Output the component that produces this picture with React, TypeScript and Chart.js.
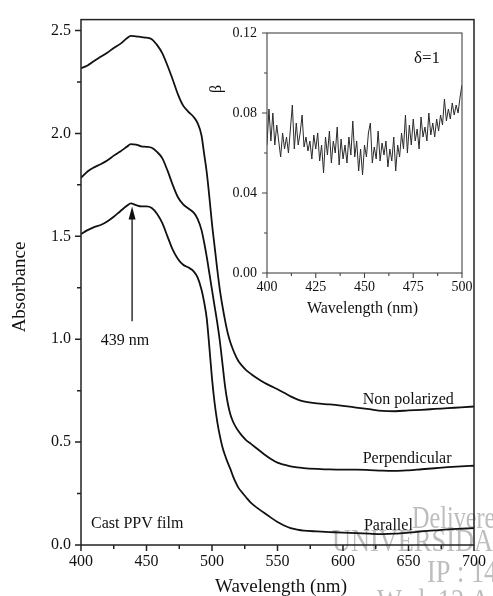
import React, { useEffect, useRef } from 'react';
import { Chart, registerables } from 'chart.js';

Chart.register(...registerables);

const SERIF = "'Liberation Serif', 'Times New Roman', serif";
const INK = '#111111';

// ---------- main chart data ----------
const wavelengths = [
  400, 405, 410, 415, 420, 425, 430, 435, 438, 442, 446, 450, 454, 458, 462, 466, 470, 474, 478, 482,
  486, 489, 492, 494, 496, 498, 500, 502, 504, 506, 508, 510, 512, 514, 516, 518, 520, 523, 526, 530,
  535, 540, 545, 550, 555, 560, 565, 570, 580, 590, 600, 610, 620, 630, 640, 650, 660, 670, 680, 690, 700,
];

const nonPolarized = [
  2.317, 2.330, 2.352, 2.372, 2.392, 2.415, 2.435, 2.462, 2.474, 2.472, 2.468, 2.465, 2.458, 2.430, 2.390, 2.330, 2.262, 2.190, 2.135, 2.105,
  2.080, 2.050, 1.990, 1.900, 1.810, 1.690, 1.560, 1.450, 1.340, 1.240, 1.160, 1.090, 1.030, 0.985, 0.950, 0.920, 0.895, 0.870, 0.850, 0.830,
  0.808, 0.788, 0.772, 0.757, 0.740, 0.722, 0.708, 0.698, 0.688, 0.683, 0.676, 0.668, 0.660, 0.652, 0.650, 0.654, 0.657, 0.661, 0.665, 0.669, 0.673,
];

const perpendicular = [
  1.784, 1.815, 1.835, 1.850, 1.868, 1.892, 1.912, 1.935, 1.948, 1.946, 1.937, 1.935, 1.930, 1.910, 1.880, 1.820, 1.750, 1.690, 1.655, 1.635,
  1.615, 1.585, 1.530, 1.470, 1.400, 1.320, 1.240, 1.160, 1.080, 0.990, 0.880, 0.770, 0.690, 0.635, 0.600, 0.575, 0.555, 0.530, 0.510, 0.490,
  0.465, 0.440, 0.418, 0.400, 0.390, 0.382, 0.377, 0.374, 0.370, 0.367, 0.366, 0.366, 0.364, 0.361, 0.360, 0.363, 0.368, 0.373, 0.378, 0.382, 0.385,
];

const parallel = [
  1.510, 1.530, 1.545, 1.555, 1.572, 1.595, 1.622, 1.648, 1.660, 1.652, 1.645, 1.645, 1.638, 1.610, 1.565, 1.500, 1.435, 1.390, 1.362, 1.348,
  1.330, 1.300, 1.240, 1.180, 1.100, 0.960, 0.810, 0.690, 0.600, 0.530, 0.475, 0.435, 0.400, 0.370, 0.335, 0.305, 0.280, 0.255, 0.232, 0.203,
  0.178, 0.155, 0.133, 0.112, 0.095, 0.082, 0.075, 0.070, 0.066, 0.063, 0.060, 0.058, 0.055, 0.053, 0.055, 0.060, 0.066, 0.071, 0.076, 0.079, 0.082,
];

const mainXTicks = [400, 450, 500, 550, 600, 650, 700];
const mainXMinor = [425, 475, 525, 575, 625, 675];
const mainYTicks = [0, 0.5, 1.0, 1.5, 2.0, 2.5];
const mainYMinor = [0.25, 0.75, 1.25, 1.75, 2.25];

// ---------- inset data (beta vs wavelength, 1 nm steps from 400 nm) ----------
const insetStart = 400;
const beta = [
  0.064, 0.082, 0.066, 0.080, 0.064, 0.074, 0.066, 0.058, 0.070, 0.062,
  0.068, 0.060, 0.072, 0.084, 0.062, 0.075, 0.064, 0.070, 0.079, 0.063,
  0.068, 0.061, 0.066, 0.057, 0.069, 0.062, 0.070, 0.056, 0.064, 0.050,
  0.068, 0.059, 0.071, 0.055, 0.066, 0.060, 0.073, 0.054, 0.067, 0.057,
  0.064, 0.055, 0.068, 0.059, 0.076, 0.058, 0.066, 0.051, 0.062, 0.049,
  0.064, 0.058, 0.070, 0.075, 0.055, 0.063, 0.057, 0.071, 0.056, 0.065,
  0.059, 0.066, 0.053, 0.062, 0.056, 0.068, 0.051, 0.064, 0.058, 0.070,
  0.062, 0.079, 0.060, 0.074, 0.064, 0.077, 0.066, 0.072, 0.062, 0.078,
  0.068, 0.073, 0.066, 0.080, 0.069, 0.075, 0.068, 0.077, 0.071, 0.079,
  0.074, 0.087, 0.076, 0.082, 0.077, 0.085, 0.079, 0.084, 0.080, 0.088,
  0.094,
];
const insetWavelengths = beta.map((_, i) => insetStart + i);

const insetXTicks = [400, 425, 450, 475, 500];
const insetXMinor = [412.5, 437.5, 462.5, 487.5];
const insetYTicks = [0, 0.04, 0.08, 0.12];
const insetYMinor = [0.02, 0.06, 0.1];

// ---------- helpers ----------
type FrameCfg = {
  xMajor: number[]; xMinor: number[]; yMajor: number[]; yMinor: number[];
  major: number; minor: number; lw: number; color: string;
};

function framePlugin(cfg: FrameCfg) {
  return {
    id: 'frameTicks',
    afterDraw(chart: any) {
      const { ctx, chartArea: a, scales } = chart;
      const x = scales.x;
      const y = scales.y;
      ctx.save();
      ctx.strokeStyle = cfg.color;
      ctx.lineWidth = cfg.lw;
      ctx.beginPath();
      for (const v of cfg.xMajor) {
        const p = x.getPixelForValue(v);
        ctx.moveTo(p, a.bottom);
        ctx.lineTo(p, a.bottom + cfg.major);
      }
      for (const v of cfg.xMinor) {
        const p = x.getPixelForValue(v);
        ctx.moveTo(p, a.bottom);
        ctx.lineTo(p, a.bottom + cfg.minor);
      }
      for (const v of cfg.yMajor) {
        const p = y.getPixelForValue(v);
        ctx.moveTo(a.left, p);
        ctx.lineTo(a.left - cfg.major, p);
      }
      for (const v of cfg.yMinor) {
        const p = y.getPixelForValue(v);
        ctx.moveTo(a.left, p);
        ctx.lineTo(a.left - cfg.minor, p);
      }
      ctx.stroke();
      ctx.strokeRect(a.left, a.top, a.right - a.left, a.bottom - a.top);
      ctx.restore();
    },
  };
}

function condensed(ctx: any, text: string, px: number, py: number, sx: number) {
  ctx.save();
  ctx.translate(px, py);
  ctx.scale(sx, 1);
  ctx.fillText(text, 0, 0);
  ctx.restore();
}

const mainTextPlugin = {
  id: 'mainText',
  beforeDraw(chart: any) {
    const { ctx } = chart;
    ctx.save();
    ctx.fillStyle = '#bdbdbd';
    ctx.font = `31px ${SERIF}`;
    ctx.textAlign = 'left';
    ctx.textBaseline = 'alphabetic';
    condensed(ctx, 'Delivere', 412, 528, 0.78);
    condensed(ctx, 'UNIVERSIDA', 332, 551, 0.85);
    condensed(ctx, 'IP : 14', 427, 582, 0.85);
    condensed(ctx, 'Wed, 12 A', 377, 611, 0.85);
    ctx.restore();
  },
  afterDraw(chart: any) {
    const { ctx, scales } = chart;
    const x = scales.x;
    const y = scales.y;
    ctx.save();
    ctx.fillStyle = INK;
    ctx.strokeStyle = INK;
    ctx.textBaseline = 'alphabetic';
    ctx.textAlign = 'left';
    ctx.font = `16px ${SERIF}`;
    const labels: [string, number, number][] = [
      ['Non polarized', 615, 0.687],
      ['Perpendicular', 615, 0.400],
      ['Parallel', 616, 0.074],
      ['Cast PPV film', 407.6, 0.083],
      ['439 nm', 415, 0.974],
    ];
    for (const [t, vx, vy] of labels) ctx.fillText(t, x.getPixelForValue(vx), y.getPixelForValue(vy));

    // arrow at 439 nm
    const ax = x.getPixelForValue(439);
    const y0 = y.getPixelForValue(1.087);
    const y1 = y.getPixelForValue(1.645);
    ctx.lineWidth = 1.3;
    ctx.beginPath();
    ctx.moveTo(ax, y0);
    ctx.lineTo(ax, y1 + 10);
    ctx.stroke();
    ctx.beginPath();
    ctx.moveTo(ax, y1);
    ctx.lineTo(ax - 3.5, y1 + 13);
    ctx.lineTo(ax + 3.5, y1 + 13);
    ctx.closePath();
    ctx.fill();

    // axis titles
    ctx.font = `19px ${SERIF}`;
    ctx.textAlign = 'center';
    ctx.fillText('Wavelength (nm)', 281, 592);
    ctx.save();
    ctx.translate(25, 287);
    ctx.rotate(-Math.PI / 2);
    ctx.fillText('Absorbance', 0, 0);
    ctx.restore();
    ctx.restore();
  },
};

const insetTextPlugin = {
  id: 'insetText',
  afterDraw(chart: any) {
    const { ctx, chartArea: a } = chart;
    ctx.save();
    ctx.fillStyle = INK;
    ctx.textBaseline = 'alphabetic';
    ctx.textAlign = 'center';
    ctx.font = `16px ${SERIF}`;
    ctx.fillText('Wavelength (nm)', (a.left + a.right) / 2 - 2, 313);
    ctx.font = `17px ${SERIF}`;
    ctx.fillText('δ=1', 227, 63);
    ctx.save();
    ctx.translate(21, 89);
    ctx.rotate(-Math.PI / 2);
    ctx.font = `16px ${SERIF}`;
    ctx.fillText('β', 0, 0);
    ctx.restore();
    ctx.restore();
  },
};

function toPoints(xs: number[], ys: number[]) {
  return xs.map((v, i) => ({ x: v, y: ys[i] }));
}

export default function App() {
  const mainRef = useRef<HTMLCanvasElement | null>(null);
  const insetRef = useRef<HTMLCanvasElement | null>(null);

  useEffect(() => {
    if (!mainRef.current || !insetRef.current) return;
    const tickFont = { family: SERIF, size: 16 };
    const lineStyle = { borderColor: INK, borderWidth: 1.8, pointRadius: 0, fill: false, cubicInterpolationMode: 'monotone' as const };
    const noGrid = { display: false, drawTicks: false, tickLength: 0 };

    const main = new Chart(mainRef.current, {
      type: 'line',
      data: {
        datasets: [
          { label: 'Non polarized', data: toPoints(wavelengths, nonPolarized), ...lineStyle },
          { label: 'Perpendicular', data: toPoints(wavelengths, perpendicular), ...lineStyle },
          { label: 'Parallel', data: toPoints(wavelengths, parallel), ...lineStyle },
        ],
      },
      options: {
        animation: false,
        responsive: false,
        maintainAspectRatio: false,
        layout: { padding: { left: 0, right: 16, top: 13, bottom: 0 } },
        plugins: { legend: { display: false }, tooltip: { enabled: false } },
        scales: {
          x: {
            type: 'linear',
            min: 400,
            max: 700,
            afterFit: (s: any) => { s.height = 51; },
            afterBuildTicks: (s: any) => { s.ticks = mainXTicks.map((v) => ({ value: v })); },
            grid: noGrid,
            border: { display: false },
            ticks: { font: tickFont, color: INK, padding: 7, maxRotation: 0, autoSkip: false, callback: (v: any) => String(v) },
          },
          y: {
            type: 'linear',
            min: 0,
            max: 2.553,
            afterFit: (s: any) => { s.width = 81; },
            afterBuildTicks: (s: any) => { s.ticks = mainYTicks.map((v) => ({ value: v })); },
            grid: noGrid,
            border: { display: false },
            ticks: { font: tickFont, color: INK, padding: 10, autoSkip: false, callback: (v: any) => Number(v).toFixed(1) },
          },
        },
      },
      plugins: [
        framePlugin({ xMajor: mainXTicks, xMinor: mainXMinor, yMajor: mainYTicks, yMinor: mainYMinor, major: 6, minor: 4, lw: 1.5, color: '#222' }),
        mainTextPlugin,
      ],
    });

    const insetFont = { family: SERIF, size: 14 };
    const inset = new Chart(insetRef.current, {
      type: 'line',
      data: {
        datasets: [
          { label: 'beta', data: toPoints(insetWavelengths, beta), borderColor: '#2a2a2a', borderWidth: 1, pointRadius: 0, fill: false, tension: 0 },
        ],
      },
      options: {
        animation: false,
        responsive: false,
        maintainAspectRatio: false,
        layout: { padding: { left: 0, right: 28, top: 33, bottom: 0 } },
        plugins: { legend: { display: false }, tooltip: { enabled: false } },
        scales: {
          x: {
            type: 'linear',
            min: 400,
            max: 500,
            afterFit: (s: any) => { s.height = 57; },
            afterBuildTicks: (s: any) => { s.ticks = insetXTicks.map((v) => ({ value: v })); },
            grid: noGrid,
            border: { display: false },
            ticks: { font: insetFont, color: INK, padding: 6, maxRotation: 0, autoSkip: false, callback: (v: any) => String(v) },
          },
          y: {
            type: 'linear',
            min: 0,
            max: 0.12,
            afterFit: (s: any) => { s.width = 67; },
            afterBuildTicks: (s: any) => { s.ticks = insetYTicks.map((v) => ({ value: v })); },
            grid: noGrid,
            border: { display: false },
            ticks: { font: insetFont, color: INK, padding: 10, autoSkip: false, callback: (v: any) => Number(v).toFixed(2) },
          },
        },
      },
      plugins: [
        framePlugin({ xMajor: insetXTicks, xMinor: insetXMinor, yMajor: insetYTicks, yMinor: insetYMinor, major: 5, minor: 3, lw: 1.1, color: '#444' }),
        insetTextPlugin,
      ],
    });

    return () => {
      main.destroy();
      inset.destroy();
    };
  }, []);

  return (
    <div style={{ position: 'fixed', left: 0, top: 0, width: 493, height: 596, background: '#fff', overflow: 'hidden' }}>
      <canvas ref={mainRef} width={493} height={596} style={{ position: 'absolute', left: 0, top: 0, width: 493, height: 596 }} />
      <canvas ref={insetRef} width={290} height={330} style={{ position: 'absolute', left: 200, top: 0, width: 290, height: 330 }} />
    </div>
  );
}
